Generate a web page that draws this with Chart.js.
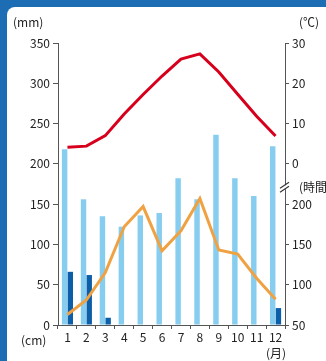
<!DOCTYPE html>
<html>
<head>
<meta charset="utf-8">
<script src="https://cdn.jsdelivr.net/npm/chart.js@4"></script>
<style>
  html, body { margin: 0; padding: 0; }
  body { width: 326px; height: 361px; position: relative; overflow: hidden; background: #1d6db5; }
  #sheet { position: absolute; left: 7px; top: 7px; right: 0; bottom: 0; background: #fff; border-top-left-radius: 8px; }
  #wrap { position: absolute; left: 0; top: 0; width: 326px; height: 361px; }
  .unit { position: absolute; font: 12px 'Noto Sans CJK JP', sans-serif; color: #222; line-height: 16px; white-space: nowrap; }
</style>
</head>
<body>
<div id="sheet"></div>
<div id="wrap"><canvas id="chart"></canvas></div>
<div class="unit" style="left:13px; top:14px;">(mm)</div>
<div class="unit" style="left:299px; top:14px;">(℃)</div>
<div class="unit" style="left:299px; top:179px;">(時間)</div>
<div class="unit" style="left:21px; top:332px;">(cm)</div>
<div class="unit" style="left:266px; top:345px;">(月)</div>
<script>
// ── DATA ──
const months        = ['1', '2', '3', '4', '5', '6', '7', '8', '9', '10', '11', '12'];
const precipitation = [218, 156, 135, 122, 136, 139, 182, 156, 236, 182, 160, 222];   // mm
const snowDepth     = [66, 62, 9, 0, 0, 0, 0, 0, 0, 0, 0, 21];                        // cm
const temperature   = [4.1, 4.4, 7.0, 12.4, 17.2, 21.8, 26.0, 27.3, 22.8, 17.3, 11.8, 6.9]; // ℃
const sunshine      = [63, 81, 115, 172, 197, 142, 167, 207, 143, 138, 108, 82];      // 時間
const rightTickLabels = ['50', '100', '150', '200', '0', '10', '20', '30'];
const breakAt = 171; // where the right axis is broken (left-axis units)

// ── STYLE ──
const FONT = "'Noto Sans CJK JP', 'Noto Sans', sans-serif";
const INK = '#222';
const AXIS = '#555';
Chart.defaults.font.family = FONT;
Chart.defaults.font.size = 12;
Chart.defaults.color = INK;

// ── AXIS BREAK MARK ──
const axisBreak = {
  id: 'axisBreak',
  afterDraw(chart) {
    const ctx = chart.ctx;
    const x = chart.chartArea.right;
    const y = chart.scales.y.getPixelForValue(breakAt);
    ctx.save();
    ctx.fillStyle = '#fff';
    ctx.fillRect(x - 2, y - 2, 4, 4);
    ctx.strokeStyle = '#333';
    ctx.lineWidth = 1.2;
    [-2, 2].forEach(d => {
      ctx.beginPath();
      ctx.moveTo(x - 5, y + d + 3);
      ctx.lineTo(x + 4, y + d - 3);
      ctx.stroke();
    });
    ctx.restore();
  }
};

new Chart(document.getElementById('chart'), {
  type: 'bar',
  data: {
    labels: months,
    datasets: [
      { type: 'line', label: '気温', data: temperature, yAxisID: 'yTemp',
        borderColor: '#d7001c', borderWidth: 3, pointRadius: 0, tension: 0, order: 1 },
      { type: 'line', label: '日照時間', data: sunshine, yAxisID: 'ySun',
        borderColor: '#f0a243', borderWidth: 3, pointRadius: 0, tension: 0, order: 2 },
      { label: '降水量', data: precipitation, yAxisID: 'y',
        backgroundColor: '#86cdf0', categoryPercentage: 0.6, barPercentage: 0.96, order: 5 },
      { label: '積雪', data: snowDepth, yAxisID: 'y',
        backgroundColor: '#0d5ea8', categoryPercentage: 0.6, barPercentage: 0.96, order: 5 }
    ]
  },
  options: {
    animation: false,
    responsive: true,
    maintainAspectRatio: false,
    layout: { padding: { top: 43, left: 0, right: 0, bottom: 0 } },
    plugins: { legend: { display: false }, tooltip: { enabled: false } },
    scales: {
      x: {
        grid: { offset: true, drawOnChartArea: false, tickLength: 4, color: AXIS },
        border: { color: AXIS },
        ticks: { color: INK, padding: 1, maxRotation: 0, autoSkip: false },
        afterFit: s => { s.height = 36; }
      },
      y: {
        position: 'left',
        min: 0, max: 350,
        grid: { drawOnChartArea: false, tickLength: 5, color: AXIS },
        border: { color: AXIS },
        ticks: { stepSize: 50, padding: 3, color: INK },
        afterFit: s => { s.width = 58; }
      },
      y2: {
        position: 'right',
        min: 0, max: 350,
        grid: { drawOnChartArea: false, tickLength: 4, color: AXIS },
        border: { color: AXIS },
        ticks: { stepSize: 50, padding: 3, color: INK, callback: (v, i) => rightTickLabels[i] },
        afterFit: s => { s.width = 41; }
      },
      yTemp: { display: false, min: -40, max: 30 },
      ySun:  { display: false, min: 50, max: 400 }
    }
  },
  plugins: [axisBreak]
});
</script>
</body>
</html>
